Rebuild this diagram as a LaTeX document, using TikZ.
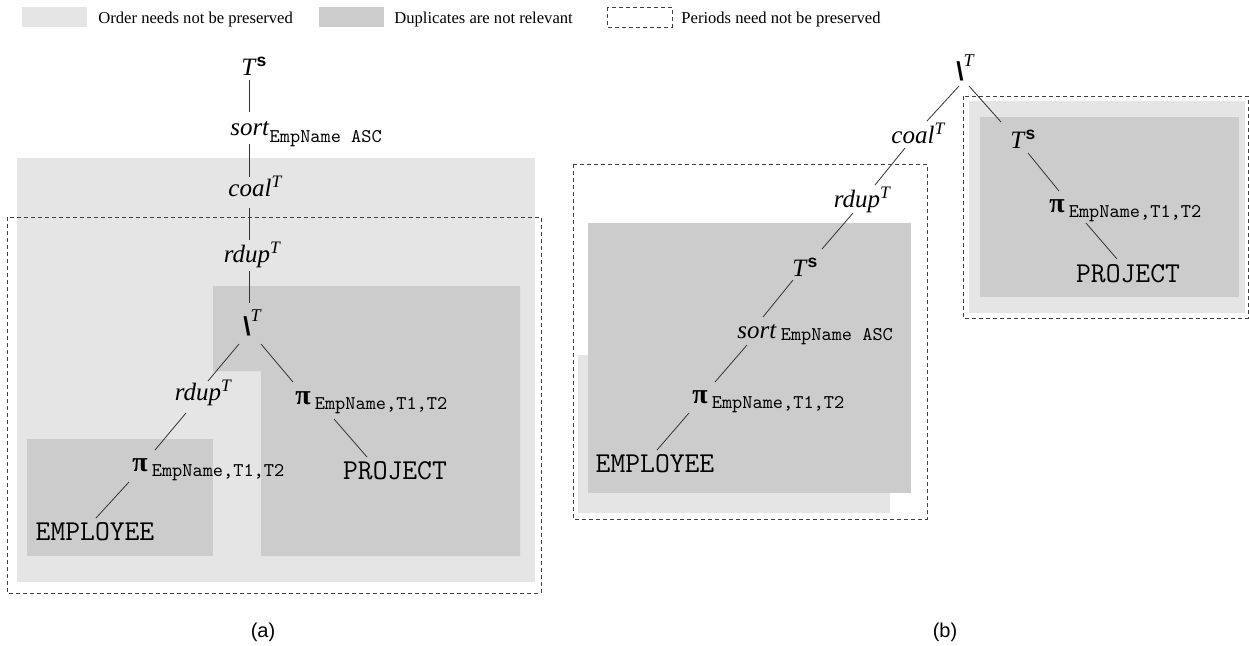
\documentclass[tikz,border=0pt]{standalone}
\usepackage{fontspec}
\setmainfont{Liberation Serif}
\setsansfont{Liberation Sans}
\usepackage{tikz}
\usetikzlibrary{arrows}

\definecolor{orderfree}{gray}{0.9}
\definecolor{dupfree}{gray}{0.8}
\newcommand{\attr}[1]{{\fontsize{9.7}{10}\selectfont\ttfamily #1}}
\newcommand{\supT}{\rlap{\textsuperscript{\textit{T}}}}
\newcommand{\tsort}{\textit{T}\rlap{\textsuperscript{\textsf{\textbf{s}}}}}
\newcommand{\tdiff}{{\fontsize{13}{14}\selectfont\textsf{\textbf{\textbackslash}}}\rlap{\raisebox{7pt}{\fontsize{9}{10}\selectfont\textit{T}}}}
\newcommand{\proj}{{\fontsize{14}{14}\selectfont\textbf{π}}\rlap{\,\raisebox{-2.5pt}{\attr{EmpName,T1,T2}}}}

\begin{document}
\begin{tikzpicture}[x=0.5pt,y=-0.5pt,thin]
  \tikzstyle{op}=[inner sep=0pt,anchor=base,font=\fontsize{12.5}{14}\selectfont]
  \tikzstyle{rel}=[inner sep=0pt,anchor=base,font=\fontsize{14.4}{14}\selectfont\ttfamily]
  \tikzstyle{legend}=[inner sep=0pt,anchor=base west,font=\fontsize{8.3}{10}\selectfont]
  \tikzstyle{period}=[draw=black!75,dash pattern=on 2pt off 1.5pt]
  \tikzstyle{every edge}=[draw=black!80]
  \useasboundingbox (0,0) rectangle (1249,645);

  % legend
  \fill[orderfree] (22,7) rectangle (87,27);
  \node[legend] (l1) at (98,23) {Order needs not be preserved};
  \fill[dupfree] (319,7) rectangle (384,27);
  \node[legend] (l2) at (394,23) {Duplicates are not relevant};
  \draw[period] (607,7) rectangle (672,27);
  \node[legend] (l3) at (681,23) {Periods need not be preserved};

  % (a) regions
  \fill[orderfree] (17,158) rectangle (535,582);
  \draw[period] (7,217) rectangle (541,593);
  \fill[dupfree] (27,439) rectangle (213,556);
  \fill[dupfree] (213,286) -- (520,286) -- (520,556) -- (261,556) -- (261,371) -- (213,371) -- cycle;

  % (a) tree
  \node[op] (tsA) at (249,75) {\tsort};
  \node[op] (soA) at (250,135) {\textit{sort}\rlap{\raisebox{-3.5pt}{\attr{EmpName ASC}}}};
  \node[op] (coA) at (250,196) {\textit{coal}\supT};
  \node[op] (rdA) at (247,262) {\textit{rdup}\supT};
  \node[op] (sdA) at (247,335) {\tdiff};
  \node[op] (rdA2) at (198,400) {\textit{rdup}\supT};
  \node[op] (piA1) at (303,404) {\proj};
  \node[op] (piA2) at (140,471) {\proj};
  \node[rel] (prjA) at (395,479) {PROJECT};
  \node[rel] (empA) at (95,540) {EMPLOYEE};

  \path ([shift={(0,5)}]tsA.base) edge ([shift={(-1,-23)}]soA.base)
    ([shift={(-1,9)}]soA.base) edge ([shift={(-1,-19)}]coA.base)
    ([shift={(-1,12)}]coA.base) edge ([shift={(2,-22)}]rdA.base)
    ([shift={(2,9)}]rdA.base) edge ([shift={(2,-32)}]sdA.base)
    ([shift={(-8,9)}]sdA.base) edge ([shift={(10,-19)}]rdA2.base)
    ([shift={(14,9)}]sdA.base) edge ([shift={(-10,-22)}]piA1.base)
    ([shift={(-12,13)}]rdA2.base) edge ([shift={(15,-21)}]piA2.base)
    ([shift={(-11,11)}]piA2.base) edge ([shift={(1,-22)}]empA.base)
    ([shift={(31,15)}]piA1.base) edge ([shift={(-28,-22)}]prjA.base);

  % (b) regions
  \draw[period] (573,164) rectangle (927,519);
  \fill[orderfree] (578,355) rectangle (890,513);
  \fill[dupfree] (588,223) rectangle (911,493);
  \draw[period] (963,96) rectangle (1248,318);
  \fill[orderfree] (969,101) rectangle (1245,313);
  \fill[dupfree] (980,117) rectangle (1239,297);

  % (b) tree
  \node[op] (sdB) at (960,80) {\tdiff};
  \node[op] (coB) at (913,143) {\textit{coal}\supT};
  \node[op] (rdB) at (857,207) {\textit{rdup}\supT};
  \node[op] (tsB) at (800,276) {\tsort};
  \node[op] (soB) at (757,338) {\textit{sort}\rlap{\,\raisebox{-1pt}{\attr{EmpName ASC}}}};
  \node[op] (piB1) at (700,403) {\proj};
  \node[rel] (empB) at (655,472) {EMPLOYEE};
  \node[op] (tsB2) at (1018,148) {\tsort};
  \node[op] (piB2) at (1057,212) {\proj};
  \node[rel] (prjB) at (1128,282) {PROJECT};

  \path ([shift={(-1,6)}]sdB.base) edge ([shift={(14,-22)}]coB.base)
    ([shift={(9,6)}]sdB.base) edge ([shift={(-17,-26)}]tsB2.base)
    ([shift={(-8,5)}]coB.base) edge ([shift={(18,-22)}]rdB.base)
    ([shift={(-4,6)}]rdB.base) edge ([shift={(22,-27)}]tsB.base)
    ([shift={(-7,4)}]tsB.base) edge ([shift={(6,-21)}]soB.base)
    ([shift={(-10,7)}]soB.base) edge ([shift={(15,-21)}]piB1.base)
    ([shift={(-11,10)}]piB1.base) edge ([shift={(2,-22)}]empB.base)
    ([shift={(10,5)}]tsB2.base) edge ([shift={(2,-21)}]piB2.base)
    ([shift={(29,11)}]piB2.base) edge ([shift={(-11,-23)}]prjB.base);

  % captions
  \node[font=\fontsize{10}{12}\selectfont\sffamily] (capA) at (263,632) {(a)};
  \node[font=\fontsize{10}{12}\selectfont\sffamily] (capB) at (945,632) {(b)};
\end{tikzpicture}
\end{document}
